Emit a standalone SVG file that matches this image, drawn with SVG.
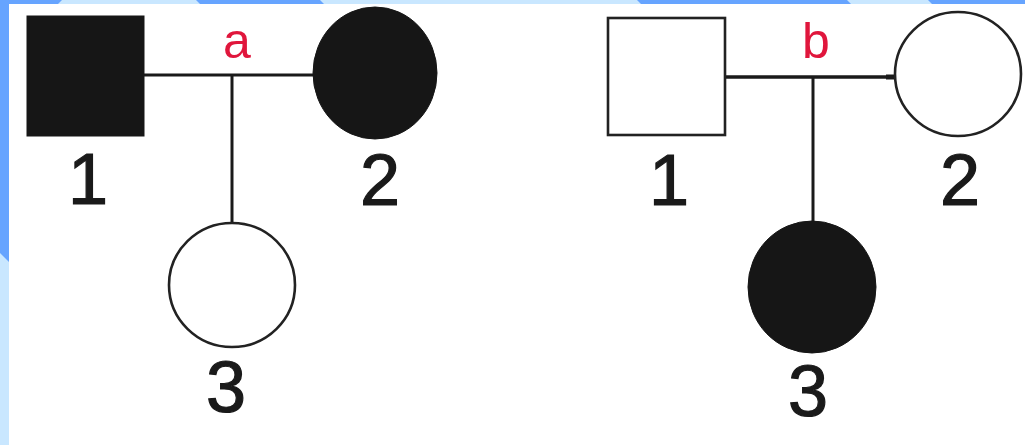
<svg xmlns="http://www.w3.org/2000/svg" width="1025" height="445" viewBox="0 0 1025 445">
<style>
.ln{stroke:#1a1a1a;stroke-width:3;fill:none}
.open{fill:#fff;stroke:#222;stroke-width:2.6}
.fill{fill:#161616;stroke:#161616;stroke-width:1}
.num{font-family:"Liberation Sans",Arial,sans-serif;font-size:72px;fill:#1a1a1a;stroke:#1a1a1a;stroke-width:1.2;text-anchor:middle}
.lab{font-family:"Liberation Sans",Arial,sans-serif;font-size:50px;fill:#e0163c;text-anchor:middle}
</style>
<rect width="1025" height="445" fill="#fff"/>
<g id="frame">
<rect x="0" y="0" width="1025" height="4" fill="#c9e7ff"/>
<polygon points="0,0 62,0 58,4 0,4" fill="#66a4ff"/>
<polygon points="196,0 320,0 324,4 200,4" fill="#66a4ff"/>
<polygon points="637,0 847,0 851,4 641,4" fill="#66a4ff"/>
<polygon points="928,0 1025,0 1025,4 932,4" fill="#66a4ff"/>
<rect x="0" y="0" width="9" height="445" fill="#c9e7ff"/>
<polygon points="0,0 9,0 9,262 0,253" fill="#66a4ff"/>
</g>
<g id="connectors">
<line class="ln" x1="144" y1="75" x2="314" y2="75"/>
<line class="ln" x1="232" y1="75" x2="232" y2="223"/>
<line class="ln" x1="725" y1="77" x2="896" y2="77" style="stroke-width:3.4"/>
<line class="ln" x1="886" y1="77" x2="896" y2="77" style="stroke-width:5"/>
<line class="ln" x1="813" y1="77" x2="813" y2="222"/>
<text class="lab" x="237" y="58">a</text>
<text class="lab" x="816" y="58">b</text>
</g>
<g id="a1">
<rect class="fill" x="27" y="16" width="117" height="120"/>
<text class="num" x="88" y="204">1</text>
</g>
<g id="a2">
<ellipse class="fill" cx="375" cy="73" rx="62" ry="66"/>
<text class="num" x="380" y="205">2</text>
</g>
<g id="a3">
<ellipse class="open" cx="232" cy="285" rx="63" ry="62"/>
<text class="num" x="226" y="412">3</text>
</g>
<g id="b1">
<rect class="open" x="608" y="18" width="117" height="117"/>
<text class="num" x="669" y="205">1</text>
</g>
<g id="b2">
<ellipse class="open" cx="958" cy="74" rx="63" ry="62"/>
<text class="num" x="960" y="205">2</text>
</g>
<g id="b3">
<ellipse class="fill" cx="812" cy="287" rx="64" ry="66"/>
<text class="num" x="808" y="416">3</text>
</g>
</svg>
